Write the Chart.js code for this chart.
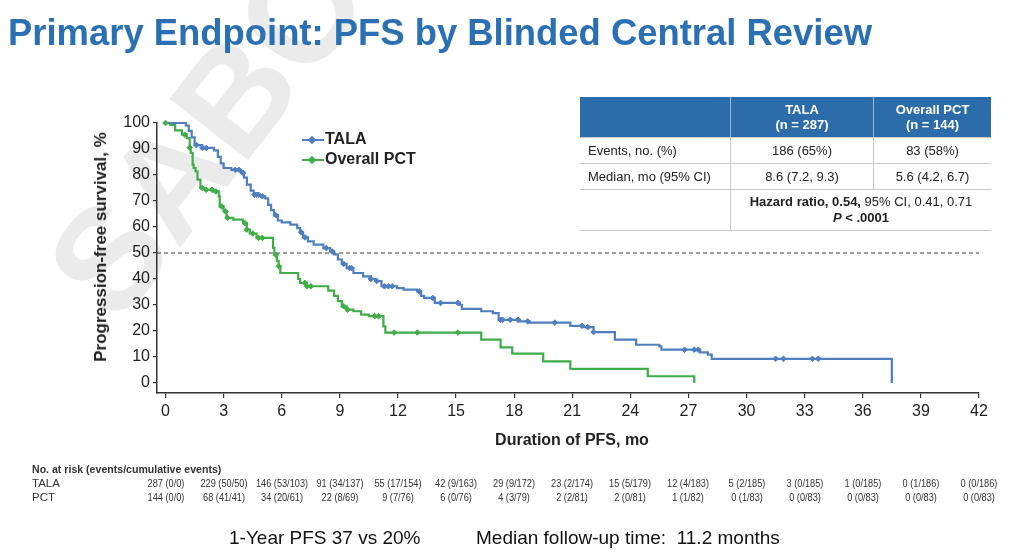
<!DOCTYPE html>
<html>
<head>
<meta charset="utf-8">
<script src="https://cdn.jsdelivr.net/npm/chart.js@4.4.1/dist/chart.umd.min.js"></script>
<style>
  html, body { margin: 0; padding: 0; background: #fff; }
  body { width: 1024px; height: 558px; position: relative; overflow: hidden; font-family: "Liberation Sans", Arial, sans-serif; }
  #wm { position: absolute; left: 125px; top: 201px; font-size: 145px; line-height: 1; font-weight: bold; color: #ebebeb; transform-origin: 0 131px; transform: rotate(-52deg); white-space: nowrap; z-index: 0; }
  #pfsChart { position: absolute; left: 0; top: 0; z-index: 1; }
  .abs { position: absolute; z-index: 2; white-space: nowrap; }
  #title { left: 8px; top: 12px; font-size: 36px; font-weight: bold; color: #2a70b3; transform-origin: 0 0; }
  #ytitle { left: 101px; top: 247px; font-size: 17px; font-weight: bold; color: #222; transform: translate(-50%, -50%) rotate(-90deg); }
  #xtitle { left: 572px; top: 440px; font-size: 16px; font-weight: bold; color: #222; transform: translate(-50%, -50%); }
  .leg { font-size: 16px; font-weight: bold; color: #222; }
  .legline { position: absolute; width: 22px; height: 2px; z-index: 2; }
  .legdot { position: absolute; width: 6px; height: 6px; transform: rotate(45deg); z-index: 2; }
  #stats { left: 580px; top: 97px; border-collapse: collapse; font-size: 13px; color: #222; }
  #stats td { padding: 0; text-align: center; border-left: 1px solid #c8c8c8; border-bottom: 1px solid #c8c8c8; }
  #stats td:first-child { border-left: none; text-align: left; padding-left: 8px; }
  #stats tr.head td { background: #2c6cab; color: #fff; font-weight: bold; height: 40px; line-height: 15px; border-left: 1px solid #9bb8d6; }
  #stats tr.head td:first-child { border-left: none; }
  #stats tr.row td { height: 25px; }
  #stats tr.hr td { height: 40px; line-height: 16px; }
  .risk { font-size: 11.5px; color: #333; }
  #foot1, #foot2 { font-size: 19px; color: #111; top: 527px; }
</style>
</head>
<body>
<div id="wm">SABCS</div>
<canvas id="pfsChart" width="1024" height="558"></canvas>

<div class="abs" id="title">Primary Endpoint: PFS by Blinded Central Review</div>
<div class="abs" id="ytitle">Progression-free survival, %</div>
<div class="abs" id="xtitle">Duration of PFS, mo</div>

<div class="legline" style="left:302px; top:139px; background:#4f7fbf"></div>
<div class="legdot" style="left:309px; top:137px; background:#4f7fbf"></div>
<div class="abs leg" style="left:325px; top:130px">TALA</div>
<div class="legline" style="left:302px; top:159px; background:#3fae49"></div>
<div class="legdot" style="left:309px; top:157px; background:#3fae49"></div>
<div class="abs leg" style="left:325px; top:150px">Overall PCT</div>

<table class="abs" id="stats">
  <tr class="head"><td style="width:142px"></td><td style="width:142px">TALA<br>(n = 287)</td><td style="width:117px">Overall PCT<br>(n = 144)</td></tr>
  <tr class="row"><td>Events, no. (%)</td><td>186 (65%)</td><td>83 (58%)</td></tr>
  <tr class="row"><td>Median, mo (95% CI)</td><td>8.6 (7.2, 9.3)</td><td>5.6 (4.2, 6.7)</td></tr>
  <tr class="hr"><td></td><td colspan="2"><b>Hazard ratio, 0.54,</b> 95% CI, 0.41, 0.71<br><b><i>P</i> &lt; .0001</b></td></tr>
</table>

<div class="abs risk" style="left:32px; top:463px; font-weight:bold; transform-origin:0 0; transform:scaleX(0.92)">No. at risk (events/cumulative events)</div>
<div class="abs risk" style="left:32px; top:477px">TALA</div>
<div class="abs risk" style="left:32px; top:491px">PCT</div>
<div id="riskCells"></div>

<div class="abs" id="foot1" style="left:229px">1-Year PFS 37 vs 20%</div>
<div class="abs" id="foot2" style="left:476px">Median follow-up time:&nbsp; 11.2 months</div>

<script>
// axis ticks
var xTicks = [0, 3, 6, 9, 12, 15, 18, 21, 24, 27, 30, 33, 36, 39, 42];
var yTicks = [0, 10, 20, 30, 40, 50, 60, 70, 80, 90, 100];
var medianRef = 50;

// TALA Kaplan-Meier steps (month, survival % after the step)
var talaTime = [0, 1.05, 1.2, 1.35, 1.5, 1.9, 2.5, 2.7, 2.85, 3.0, 3.4, 3.9, 4.05, 4.2, 4.4, 4.55, 4.9, 5.15, 5.3, 5.45,
  5.6, 5.8, 6.0, 6.45, 6.8, 6.95, 7.1, 7.35, 7.65, 8.15, 8.5, 8.7, 8.9, 9.1, 9.35, 9.7, 10.2, 10.6, 10.85, 11.15,
  11.95, 12.3, 13.0, 13.2, 13.35, 13.9, 15.2, 15.3, 16.3, 16.9, 17.2, 18.3, 18.8, 20.9, 21.6, 22.1, 23.2, 24.3, 25.5,
  25.6, 27.6, 28.0, 28.2, 37.5];
var talaSurv = [100, 99, 97, 94.5, 91.5, 90.4, 89.5, 87, 84.5, 82.7, 82, 80.8, 79, 76.3, 74, 72.4, 71.8, 71, 68.5, 66.5,
  64.5, 62.5, 61.8, 60.9, 59.6, 58, 56, 54.5, 53.2, 51.9, 50.6, 49.5, 47.5, 45.8, 44.2, 42.3, 41, 40, 39.2, 37.2,
  36.5, 35.9, 35.2, 33.5, 32.7, 30.8, 30.1, 28.5, 27.6, 26.9, 24.3, 23.7, 23.2, 22, 21.5, 19.6, 16.7, 14.7, 14.1,
  12.8, 11.8, 10.9, 9.3, 0];
var talaCensor = [1.6, 1.9, 2.1, 3.6, 3.8, 4.0, 4.6, 4.7, 4.8, 5.0, 5.7, 7.0, 7.2, 8.3, 8.6, 9.2, 9.5, 9.6, 10.6, 10.9,
  11.3, 11.5, 11.7, 13.1, 13.8, 14.2, 15.1, 17.3, 17.4, 17.8, 18.2, 18.7, 20.1, 21.5, 21.8, 22.1, 26.8, 27.3, 27.5,
  31.5, 31.9, 33.4, 33.7];

// Overall PCT Kaplan-Meier steps
var pctTime = [0, 0.25, 0.5, 0.85, 1.1, 1.25, 1.3, 1.4, 1.45, 1.55, 1.65, 1.8, 2.05, 2.5, 2.75, 2.8, 3.0, 3.15, 3.5, 4.0,
  4.2, 4.35, 4.7, 5.55, 5.62, 5.75, 5.84, 5.93, 6.85, 6.95, 7.3, 8.4, 8.7, 8.9, 9.1, 9.35, 9.7, 10.1, 10.5, 11.25,
  11.35, 16.3, 17.3, 17.9, 19.5, 20.9, 24.9, 27.3];
var pctSurv = [100, 99.3, 97.2, 95.5, 94.2, 90.5, 88.5, 84, 82.7, 81.4, 78.2, 75, 74.3, 73.7, 71.8, 67.9, 66, 63.5, 62.8, 61.5,
  59, 57.5, 55.8, 52, 49.3, 47, 44.9, 42.3, 40, 38.5, 37.2, 35.5, 33.5, 31.5, 29.5, 28.2, 27.6, 26.3, 25.7, 21.8,
  19.4, 16.7, 13.7, 11.3, 8.3, 5.4, 2.6, 0];
var pctCensor = [0, 1.0, 1.25, 1.9, 2.1, 2.4, 2.6, 2.9, 3.1, 3.2, 4.1, 4.2, 4.5, 4.8, 5.0, 5.7, 5.85, 7.2, 7.3, 7.5, 9.2,
  9.4, 10.8, 11.0, 11.8, 13.0, 15.1];

// number at risk (events/cumulative events) at each x tick
var talaAtRisk = ['287 (0/0)', '229 (50/50)', '146 (53/103)', '91 (34/137)', '55 (17/154)', '42 (9/163)', '29 (9/172)',
  '23 (2/174)', '15 (5/179)', '12 (4/183)', '5 (2/185)', '3 (0/185)', '1 (0/185)', '0 (1/186)', '0 (0/186)'];
var pctAtRisk = ['144 (0/0)', '68 (41/41)', '34 (20/61)', '22 (8/69)', '9 (7/76)', '6 (0/76)', '4 (3/79)', '2 (2/81)',
  '2 (0/81)', '1 (1/82)', '0 (1/83)', '0 (0/83)', '0 (0/83)', '0 (0/83)', '0 (0/83)'];

var talaColor = '#4f7fbf';
var pctColor = '#3fae49';
var xMin = -0.44;

function steps(times, surv) {
  return times.map(function (t, i) { return { x: t, y: surv[i] }; });
}
function censorPoints(cens, times, surv) {
  return cens.map(function (c) {
    var s = surv[0];
    for (var i = 0; i < times.length; i++) { if (times[i] <= c) s = surv[i]; }
    return { x: c, y: s };
  });
}

var axisColor = '#333';
var tickFont = { family: '"Liberation Sans", Arial, sans-serif', size: 16 };

var pfsChart = new Chart(document.getElementById('pfsChart'), {
  type: 'scatter',
  data: {
    datasets: [
      {
        data: censorPoints(talaCensor, talaTime, talaSurv),
        pointStyle: 'rectRot', pointRadius: 2.8, backgroundColor: talaColor, borderColor: talaColor, borderWidth: 1
      },
      {
        data: censorPoints(pctCensor, pctTime, pctSurv),
        pointStyle: 'rectRot', pointRadius: 2.8, backgroundColor: pctColor, borderColor: pctColor, borderWidth: 1
      },
      {
        data: steps(talaTime, talaSurv), showLine: true, stepped: true,
        borderColor: talaColor, borderWidth: 2.2, pointRadius: 0
      },
      {
        data: steps(pctTime, pctSurv), showLine: true, stepped: true,
        borderColor: pctColor, borderWidth: 2.2, pointRadius: 0
      },
      {
        data: [{ x: xMin, y: medianRef }, { x: 42, y: medianRef }], showLine: true,
        borderColor: '#3a3a3a', borderWidth: 1, borderDash: [4, 3], pointRadius: 0
      }
    ]
  },
  options: {
    responsive: false,
    animation: false,
    clip: false,
    layout: { padding: { left: 0, right: 45, top: 123, bottom: 0 } },
    plugins: { legend: { display: false }, tooltip: { enabled: false } },
    scales: {
      x: {
        type: 'linear', min: xMin, max: 42,
        afterBuildTicks: function (s) { s.ticks = xTicks.map(function (v) { return { value: v }; }); },
        afterFit: function (s) { s.height = 165; },
        grid: { drawOnChartArea: false, color: axisColor, tickLength: 5, lineWidth: 1.2 },
        border: { color: axisColor, width: 1.5 },
        ticks: { font: tickFont, color: '#222', padding: 4, maxRotation: 0, autoSkip: false }
      },
      y: {
        min: -3.85, max: 100,
        afterBuildTicks: function (s) { s.ticks = yTicks.map(function (v) { return { value: v }; }); },
        afterFit: function (s) { s.width = 157; },
        grid: { drawOnChartArea: false, color: axisColor, tickLength: 4, lineWidth: 1.2 },
        border: { color: axisColor, width: 1.5 },
        ticks: { font: tickFont, color: '#222', padding: 3, autoSkip: false }
      }
    }
  }
});

// at-risk cells under the x ticks
var cells = document.getElementById('riskCells');
xTicks.forEach(function (t, i) {
  var px = pfsChart.scales.x.getPixelForValue(t);
  [[talaAtRisk[i], 477], [pctAtRisk[i], 491]].forEach(function (r) {
    var d = document.createElement('div');
    d.className = 'abs risk';
    d.textContent = r[0];
    d.style.top = r[1] + 'px';
    d.style.left = px + 'px';
    d.style.transform = 'translateX(-50%) scaleX(0.8)';
    cells.appendChild(d);
  });
});

// squeeze title to the reference width
var title = document.getElementById('title');
title.style.transform = 'scaleX(' + (864 / title.getBoundingClientRect().width) + ')';
</script>
</body>
</html>
